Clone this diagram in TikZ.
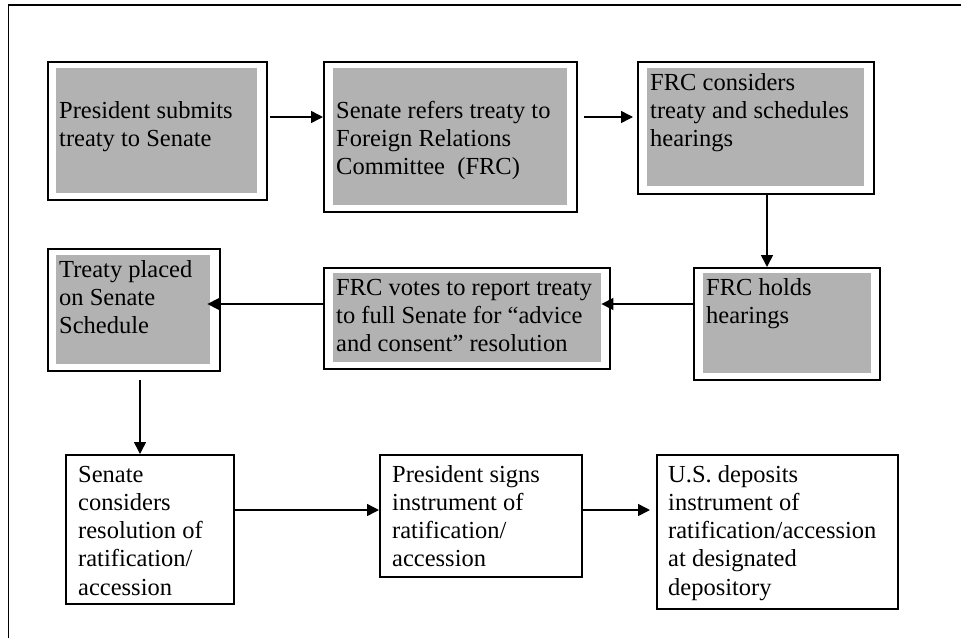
\documentclass[tikz,border=0pt]{standalone}
\usepackage{fontspec}
\setmainfont{Liberation Serif}
\usetikzlibrary{arrows.meta}
\definecolor{boxgray}{RGB}{178,178,178}
\newcommand\mlines[1]{\begin{tabular}[t]{@{}l@{}}#1\end{tabular}}
\tikzset{
  frame/.style={draw, line width=2pt, inner sep=0pt, anchor=north west},
  shadebox/.style={fill=boxgray, inner sep=0pt, anchor=north west},
  txt/.style={anchor=base west, inner sep=0pt, font=\fontsize{24.5pt}{28.3pt}\selectfont},
  arr/.style={line width=1.5pt, -{Triangle[length=12pt,width=12pt]}}
}
\begin{document}
\begin{tikzpicture}[x=1pt,y=-1pt]
\useasboundingbox (0,0) rectangle (961,638);
% outer frame (left and top visible)
\draw[line width=1.6pt] (8.5,638) -- (8.5,4.7) -- (961,4.7);

% top row
\node[frame, minimum width=219pt, minimum height=138pt] (b1) at (47,61) {};
\node[shadebox, minimum width=201pt, minimum height=125pt] (g1) at (56,68) {};
\node[txt] (t1) at (59,118) {\mlines{President submits\\treaty to Senate}};

\node[frame, minimum width=253pt, minimum height=150pt] (b2) at (323,61) {};
\node[shadebox, minimum width=234pt, minimum height=137pt] (g2) at (333,68) {};
\node[txt] (t2) at (336,118) {\mlines{Senate refers treaty to\\Foreign Relations\\Committee\ \ (FRC)}};

\node[frame, minimum width=236pt, minimum height=132pt] (b3) at (637,61) {};
\node[shadebox, minimum width=217pt, minimum height=118pt] (g3) at (647,68) {};
\node[txt] (t3) at (650,90) {\mlines{FRC considers\\treaty and schedules\\hearings}};

% middle row
\node[frame, minimum width=186pt, minimum height=112pt] (b4) at (693,267) {};
\node[shadebox, minimum width=168pt, minimum height=100pt] (g4) at (703,273) {};
\node[txt] (t4) at (706,295) {\mlines{FRC holds\\hearings}};

\node[frame, minimum width=286pt, minimum height=101pt] (b5) at (323,267) {};
\node[shadebox, minimum width=268pt, minimum height=89pt] (g5) at (333,273) {};
\node[txt] (t5) at (336,295) {\mlines{FRC votes to report treaty\\to full Senate for “advice\\and consent” resolution}};

\node[frame, minimum width=172pt, minimum height=122pt] (b6) at (47,248) {};
\node[shadebox, minimum width=154pt, minimum height=109pt] (g6) at (56,255) {};
\node[txt] (t6) at (59,277) {\mlines{Treaty placed\\on Senate\\Schedule}};

% bottom row
\node[frame, minimum width=168pt, minimum height=149pt] (b7) at (65,454) {};
\node[txt] (t7) at (78,482) {\mlines{Senate\\considers\\resolution of\\ratification/\\accession}};

\node[frame, minimum width=202pt, minimum height=122pt] (b8) at (379,454) {};
\node[txt] (t8) at (392,482) {\mlines{President signs\\instrument of\\ratification/\\accession}};

\node[frame, minimum width=241pt, minimum height=154pt] (b9) at (656,454) {};
\node[txt] (t9) at (668,482) {\mlines{U.S. deposits\\instrument of\\ratification/accession\\at designated\\depository}};

% helper coordinates for connector lines
\coordinate (ya) at (0,117);
\coordinate (yb) at (0,304);
\coordinate (yc) at (0,510);
\coordinate (xa) at (767,0);
\coordinate (xb) at (140,0);

% connectors
\draw[arr, shorten <=2pt] (b1.east |- ya) -- (b2.west |- ya);
\draw[arr, shorten <=6pt, shorten >=4pt] (b2.east |- ya) -- (b3.west |- ya);
\draw[arr] (b3.south -| xa) -- (b4.north -| xa);
\draw[arr] (b4.west |- yb) -- (g5.east |- yb);
\draw[arr, shorten >=-3pt] (b5.west |- yb) -- (g6.east |- yb);
\draw[arr, shorten <=8pt] (b6.south -| xb) -- (b7.north -| xb);
\draw[arr] (b7.east |- yc) -- (b8.west |- yc);
\draw[arr, shorten >=6pt] (b8.east |- yc) -- (b9.west |- yc);
\end{tikzpicture}
\end{document}
